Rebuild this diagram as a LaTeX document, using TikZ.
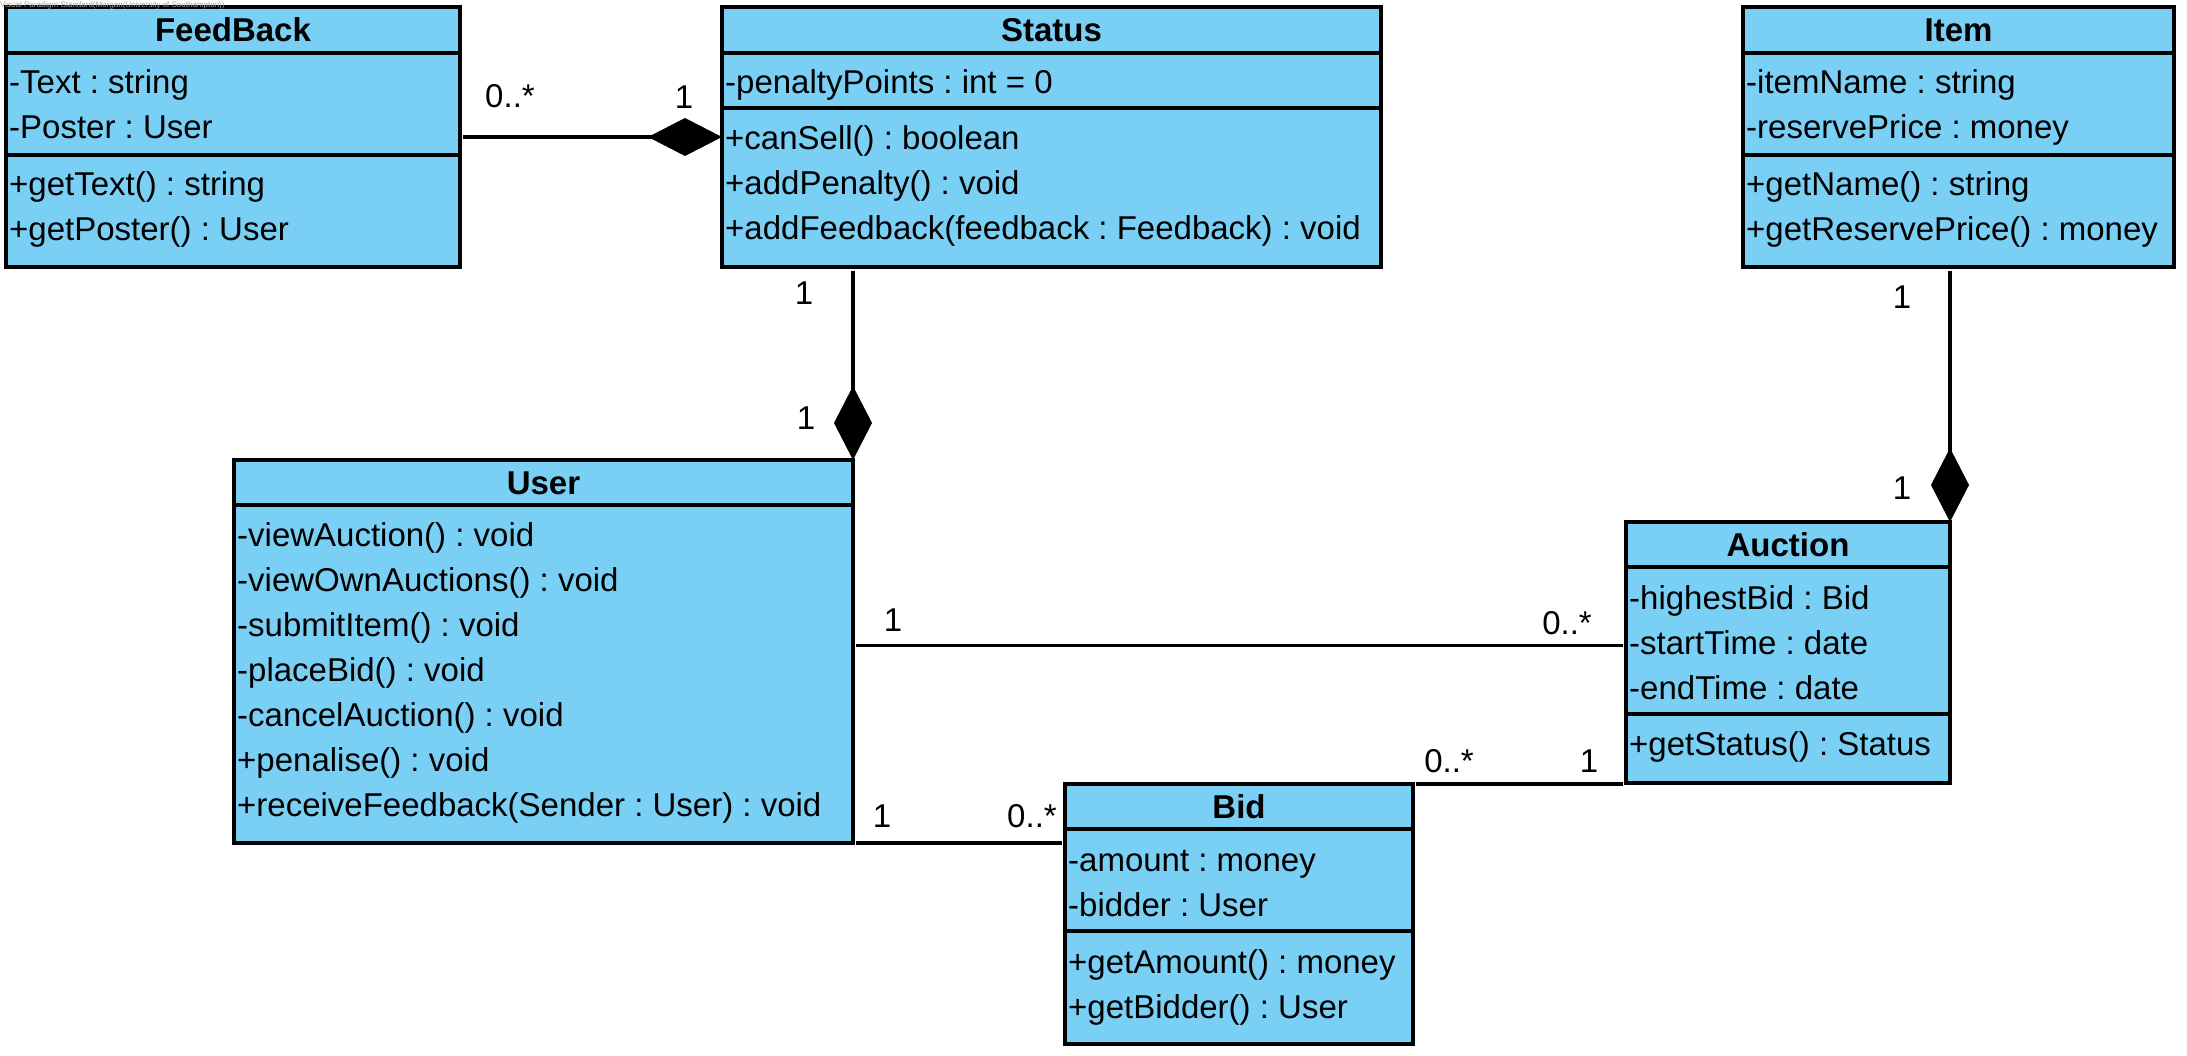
\documentclass[tikz,border=0pt]{standalone}
\usepackage{fontspec}
\setmainfont{Liberation Sans}
\usetikzlibrary{arrows.meta,calc}
\definecolor{classfill}{RGB}{122,207,245}
\frenchspacing

\tikzset{
  umlbox/.style={draw=black, fill=classfill, line width=3.4pt, rectangle,
    anchor=north west, inner sep=0pt, outer sep=0pt},
  umlsep/.style={draw=black, line width=3.4pt},
  umltitle/.style={anchor=base, inner sep=0pt, font=\fontsize{33}{40}\selectfont\bfseries},
  umlrow/.style={anchor=base west, inner sep=0pt, font=\fontsize{33}{40}\selectfont},
  mult/.style={anchor=base, inner sep=0pt, font=\fontsize{33}{40}\selectfont},
  assoc/.style={draw=black, line width=3.2pt},
  compose/.style={assoc, -{Diamond[length=74pt, width=38pt]}},
}

\begin{document}
\begin{tikzpicture}[x=1pt, y=-1pt]
\useasboundingbox (0,0) rectangle (2187,1056);

% ---------- FeedBack ----------
\node[umlbox, minimum width=454pt, minimum height=260pt] (feedback) at (6,7) {};
\draw[umlsep] (feedback.west |- 0,53) -- (feedback.east |- 0,53);
\draw[umlsep] (feedback.west |- 0,155) -- (feedback.east |- 0,155);
\node[umltitle] (feedback-title) at (233,42) {FeedBack};
\node[umlrow] (feedback-a1) at (9,94) {-Text : string};
\node[umlrow] (feedback-a2) at (9,139) {-Poster : User};
\node[umlrow] (feedback-o1) at (9,196) {+getText() : string};
\node[umlrow] (feedback-o2) at (9,241) {+getPoster() : User};

% ---------- Status ----------
\node[umlbox, minimum width=659pt, minimum height=260pt] (status) at (722,7) {};
\draw[umlsep] (status.west |- 0,53) -- (status.east |- 0,53);
\draw[umlsep] (status.west |- 0,108) -- (status.east |- 0,108);
\node[umltitle] (status-title) at (1051.5,42) {Status};
\node[umlrow] (status-a1) at (725,94) {-penaltyPoints : int = 0};
\node[umlrow] (status-o1) at (725,150) {+canSell() : boolean};
\node[umlrow] (status-o2) at (725,195) {+addPenalty() : void};
\node[umlrow] (status-o3) at (725,240) {+addFeedback(feedback : Feedback) : void};

% ---------- Item ----------
\node[umlbox, minimum width=431pt, minimum height=260pt] (item) at (1743,7) {};
\draw[umlsep] (item.west |- 0,53) -- (item.east |- 0,53);
\draw[umlsep] (item.west |- 0,155) -- (item.east |- 0,155);
\node[umltitle] (item-title) at (1958.5,42) {Item};
\node[umlrow] (item-a1) at (1746,94) {-itemName : string};
\node[umlrow] (item-a2) at (1746,139) {-reservePrice : money};
\node[umlrow] (item-o1) at (1746,196) {+getName() : string};
\node[umlrow] (item-o2) at (1746,241) {+getReservePrice() : money};

% ---------- User ----------
\node[umlbox, minimum width=619pt, minimum height=383pt] (user) at (234,460) {};
\draw[umlsep] (user.west |- 0,505) -- (user.east |- 0,505);
\node[umltitle] (user-title) at (543.5,494.5) {User};
\node[umlrow] (user-o1) at (237,546) {-viewAuction() : void};
\node[umlrow] (user-o2) at (237,591) {-viewOwnAuctions() : void};
\node[umlrow] (user-o3) at (237,636) {-submitItem() : void};
\node[umlrow] (user-o4) at (237,681) {-placeBid() : void};
\node[umlrow] (user-o5) at (237,726) {-cancelAuction() : void};
\node[umlrow] (user-o6) at (237,771) {+penalise() : void};
\node[umlrow] (user-o7) at (237,816) {+receiveFeedback(Sender : User) : void};

% ---------- Auction ----------
\node[umlbox, minimum width=324pt, minimum height=261pt] (auction) at (1626,522) {};
\draw[umlsep] (auction.west |- 0,567) -- (auction.east |- 0,567);
\draw[umlsep] (auction.west |- 0,714) -- (auction.east |- 0,714);
\node[umltitle] (auction-title) at (1788,556.5) {Auction};
\node[umlrow] (auction-a1) at (1629,609) {-highestBid : Bid};
\node[umlrow] (auction-a2) at (1629,654) {-startTime : date};
\node[umlrow] (auction-a3) at (1629,699) {-endTime : date};
\node[umlrow] (auction-o1) at (1629,755) {+getStatus() : Status};

% ---------- Bid ----------
\node[umlbox, minimum width=348pt, minimum height=260pt] (bid) at (1065,784) {};
\draw[umlsep] (bid.west |- 0,829) -- (bid.east |- 0,829);
\draw[umlsep] (bid.west |- 0,931) -- (bid.east |- 0,931);
\node[umltitle] (bid-title) at (1239,818.5) {Bid};
\node[umlrow] (bid-a1) at (1068,871) {-amount : money};
\node[umlrow] (bid-a2) at (1068,916) {-bidder : User};
\node[umlrow] (bid-o1) at (1068,973) {+getAmount() : money};
\node[umlrow] (bid-o2) at (1068,1018) {+getBidder() : User};

% ---------- Connectors ----------
\draw[compose, shorten <=3pt] (feedback.east) -- (status.west);
\draw[compose, shorten <=4pt] (status.south -| user.north east) -- (user.north east);
\draw[compose, shorten <=4pt] (item.south -| auction.north east) -- (auction.north east);
\coordinate (ua) at ([yshift=7pt]auction.west);
\draw[assoc, shorten <=3pt, shorten >=3pt] (ua -| user.east) -- (ua);
\draw[assoc, shorten <=3pt, shorten >=3pt] (user.south east) -- (user.south east -| bid.west);
\draw[assoc, shorten <=3pt, shorten >=3pt] (bid.north east) -- (bid.north east -| auction.west);

% ---------- Multiplicities ----------
\node[mult] (m-fb) at (510,108) {0..*};
\node[mult] (m-sf) at (684,109) {1};
\node[mult] (m-su) at (804,305) {1};
\node[mult] (m-us) at (806,429) {1};
\node[mult] (m-ia) at (1902,309) {1};
\node[mult] (m-ai) at (1902,499) {1};
\node[mult] (m-ua) at (893,631) {1};
\node[mult] (m-au) at (1567,634) {0..*};
\node[mult] (m-ub) at (882,827) {1};
\node[mult] (m-bu) at (1032,827) {0..*};
\node[mult] (m-ba) at (1449,772) {0..*};
\node[mult] (m-ab) at (1589,772) {1};

% ---------- Tool stamp ----------
\node[anchor=west, inner sep=0pt, font=\fontsize{8}{9}\selectfont, text=gray!70]
  (stamp) at (0,5) {Visual Paradigm Standard(Morgan(University of Southampton))};
\end{tikzpicture}
\end{document}
